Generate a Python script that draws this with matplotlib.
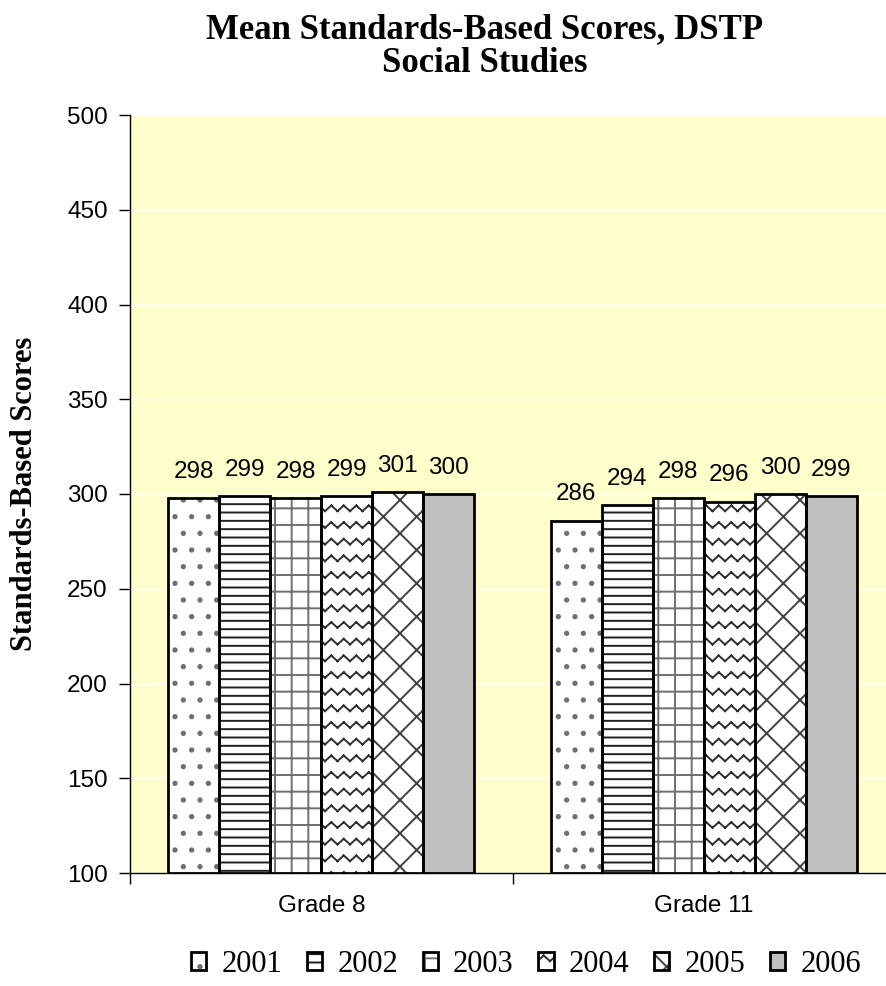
import matplotlib.pyplot as plt
import matplotlib.hatch as mhatch
from matplotlib.path import Path
import numpy as np
import warnings

warnings.filterwarnings("ignore")

#
# Data
#
grades = ["Grade 8", "Grade 11"]
years = ["2001", "2002", "2003", "2004", "2005", "2006"]
scores_2001 = [298, 286]
scores_2002 = [299, 294]
scores_2003 = [298, 298]
scores_2004 = [299, 296]
scores_2005 = [301, 300]
scores_2006 = [300, 299]
yticks = [100, 150, 200, 250, 300, 350, 400, 450, 500]

series = [scores_2001, scores_2002, scores_2003, scores_2004, scores_2005, scores_2006]


# a wavy (zigzag) hatch, matplotlib has none of its own.
# built from separate 2-point segments so Agg's fill of the hatch path stays empty
class WavyHatch(mhatch.HatchPatternBase):
    def __init__(self, hatch, density):
        self.rows = int(hatch.count("w") * density)
        self.waves = int(self.rows * 1.35)
        self.num_vertices = self.rows * self.waves * 2 * 2 if self.rows else 0

    def set_vertices_and_codes(self, vertices, codes):
        n = 2 * self.waves + 1
        xs = np.linspace(0, 1, n)
        amp = 0.028
        k = 0
        for r in range(self.rows):
            y0 = (r + 0.5) / self.rows
            ys = y0 + np.where(np.arange(n) % 2 == 0, -amp, amp)
            for j in range(n - 1):
                vertices[k] = (xs[j], ys[j])
                vertices[k + 1] = (xs[j + 1], ys[j + 1])
                codes[k] = Path.MOVETO
                codes[k + 1] = Path.LINETO
                k += 2


mhatch._hatch_types.append(WavyHatch)

hatches = [".", "--", "+", "w", "x", ""]
hatch_colors = ["#707070", "#202020", "#707070", "#303030", "#404040", "black"]
faces = ["white", "white", "white", "white", "white", "#c0c0c0"]

plt.rcParams["hatch.linewidth"] = 1.4
serif = ["Liberation Serif", "DejaVu Serif"]
sans = ["Liberation Sans", "DejaVu Sans"]

fig = plt.figure(figsize=(8.87, 9.86), dpi=100)
ax = fig.add_axes([130 / 887, (986 - 873) / 986, 765 / 887, (873 - 115) / 986])
ax.set_facecolor("#ffffcc")

x = np.arange(len(grades))
width = 0.8 / len(years)
handles = []
for i, vals in enumerate(series):
    pos = x - 0.4 + width * (i + 0.5)
    heights = np.array(vals) - 100
    hb = ax.bar(pos, heights, width, bottom=100, color=faces[i], edgecolor=hatch_colors[i],
                linewidth=0, hatch=hatches[i], zorder=3)
    ob = ax.bar(pos, heights, width, bottom=100, fill=False, edgecolor="black",
                linewidth=2, zorder=4)
    handles.append((hb[0], ob[0]))
    for b, v in zip(ob, vals):
        ax.text(b.get_x() + b.get_width() / 2, v + 8, str(v), ha="center", va="bottom",
                fontsize=17.5, family=sans)

ax.set_ylim(100, 500)
ax.set_xlim(-0.5, 1.5)
ax.set_yticks(yticks)
ax.set_yticklabels([str(t) for t in yticks], family=sans, fontsize=17.5)
ax.yaxis.grid(True, color="white", linewidth=1, zorder=0)
ax.set_axisbelow(True)

ax.set_xticks([-0.5, 0.5, 1.5])
ax.set_xticklabels([])
ax.set_xticks(x, minor=True)
ax.set_xticklabels(grades, minor=True, family=sans, fontsize=17.5)
ax.tick_params(axis="x", which="minor", length=0, pad=16)
ax.tick_params(axis="x", which="major", length=8, width=1)
ax.tick_params(axis="y", length=8, width=1, pad=8)

for s in ["top", "right"]:
    ax.spines[s].set_visible(False)
for s in ["left", "bottom"]:
    ax.spines[s].set_linewidth(1)

ax.set_ylabel("Standards-Based Scores", family=serif, fontweight="bold", fontsize=22, labelpad=20)

fig.text(0.546, 1 - 30 / 986, "Mean Standards-Based Scores, DSTP", ha="center", va="center",
         family=serif, fontweight="bold", fontsize=25)
fig.text(0.546, 1 - 64 / 986, "Social Studies", ha="center", va="center",
         family=serif, fontweight="bold", fontsize=25)

fig.legend(handles, years, loc="center", bbox_to_anchor=(0.593, 0.022), ncol=6, frameon=False,
           prop={"family": serif, "size": 22}, handlelength=0.5, handleheight=0.5,
           handletextpad=0.5, columnspacing=0.8)

plt.savefig("out.png", dpi=100)
